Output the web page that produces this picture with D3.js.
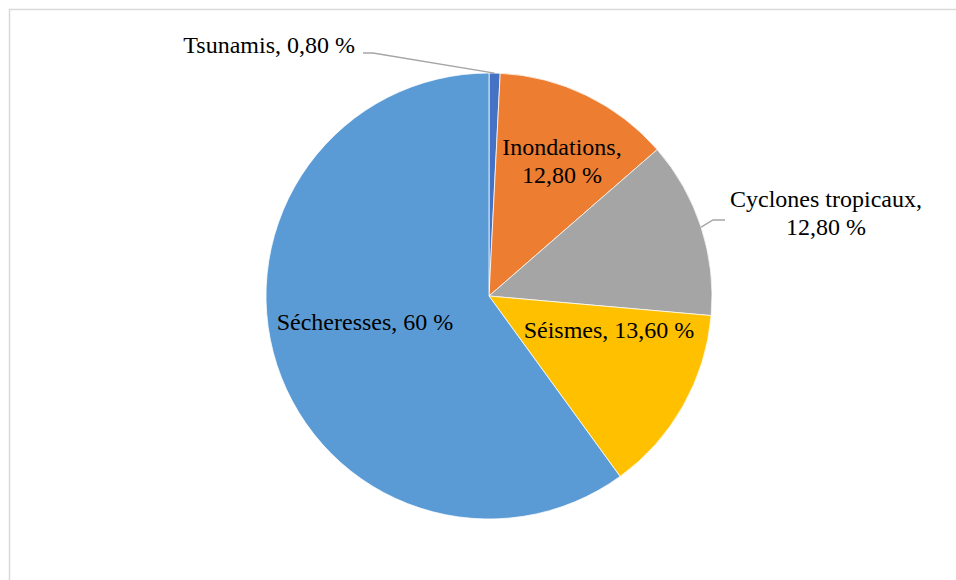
<!DOCTYPE html>
<html>
<head>
<meta charset="utf-8">
<script src="https://cdn.jsdelivr.net/npm/d3@7"></script>
<style>
  html, body { margin: 0; padding: 0; background: #fff; }
  svg { display: block; }
</style>
</head>
<body>
<svg id="chart" width="956" height="580"></svg>
<script>
// Répartition des catastrophes naturelles (%)
const categories = ["Tsunamis", "Inondations", "Cyclones tropicaux", "Séismes", "Sécheresses"];
const values = [0.8, 12.8, 12.8, 13.6, 60];
const valueLabels = ["0,80 %", "12,80 %", "12,80 %", "13,60 %", "60 %"];
const colors = ["#4472C4", "#ED7D31", "#A5A5A5", "#FFC000", "#5B9BD5"];

const W = 956, H = 580;
const cx = 489, cy = 296, R = 223;
const fontSize = 24;
const fontFamily = "'Times New Roman', 'Liberation Serif', Tinos, serif";

const svg = d3.select("#chart");

// chart-area frame
svg.append("rect")
  .attr("x", 9.5).attr("y", 9.5)
  .attr("width", W + 20).attr("height", H + 20)
  .attr("fill", "none").attr("stroke", "#d9d9d9").attr("stroke-width", 1.5);

const data = categories.map((c, i) => ({ name: c, value: values[i], label: valueLabels[i], color: colors[i] }));

const pie = d3.pie().sort(null).value(d => d.value);
const arcs = pie(data);
const arc = d3.arc().innerRadius(0).outerRadius(R);

const g = svg.append("g").attr("transform", `translate(${cx},${cy})`);

g.selectAll("path.slice")
  .data(arcs)
  .join("path")
  .attr("class", "slice")
  .attr("d", arc)
  .attr("fill", d => d.data.color)
  .attr("stroke", "#ffffff")
  .attr("stroke-width", 0.75);

// point on the rim at a slice's middle angle
function rimPoint(d) {
  const a = (d.startAngle + d.endAngle) / 2;
  return [R * Math.sin(a), -R * Math.cos(a)];
}

// label layout: anchor x, first baseline y, lines, text-anchor (relative to centre)
const labelLayout = {
  "Tsunamis": { x: 355 - cx, y: 53 - cy, lines: d => [`${d.name}, ${d.label}`], anchor: "end",
                leader: [[373 - cx, 53 - cy], [363 - cx, 53 - cy]] },
  "Inondations": { x: 562 - cx, y: 155 - cy, lines: d => [`${d.name},`, d.label], anchor: "middle" },
  "Cyclones tropicaux": { x: 826 - cx, y: 207 - cy, lines: d => [`${d.name},`, d.label], anchor: "middle",
                leader: [[713 - cx, 220 - cy], [725 - cx, 220 - cy]] },
  "Séismes": { x: 609 - cx, y: 338 - cy, lines: d => [`${d.name}, ${d.label}`], anchor: "middle" },
  "Sécheresses": { x: 365 - cx, y: 330 - cy, lines: d => [`${d.name}, ${d.label}`], anchor: "middle" }
};

const lineH = 28;
const line = d3.line();

arcs.forEach(d => {
  const L = labelLayout[d.data.name];
  if (L.leader) {
    const pts = [rimPoint(d), ...L.leader];
    g.append("path")
      .attr("d", line(pts))
      .attr("fill", "none")
      .attr("stroke", "#a5a5a5")
      .attr("stroke-width", 1.3);
  }
  const t = g.append("text")
    .attr("text-anchor", L.anchor)
    .attr("font-family", fontFamily)
    .attr("font-size", fontSize)
    .attr("fill", "#000");
  L.lines(d.data).forEach((s, i) => {
    t.append("tspan").attr("x", L.x).attr("y", L.y + i * lineH).text(s);
  });
});
</script>
</body>
</html>
